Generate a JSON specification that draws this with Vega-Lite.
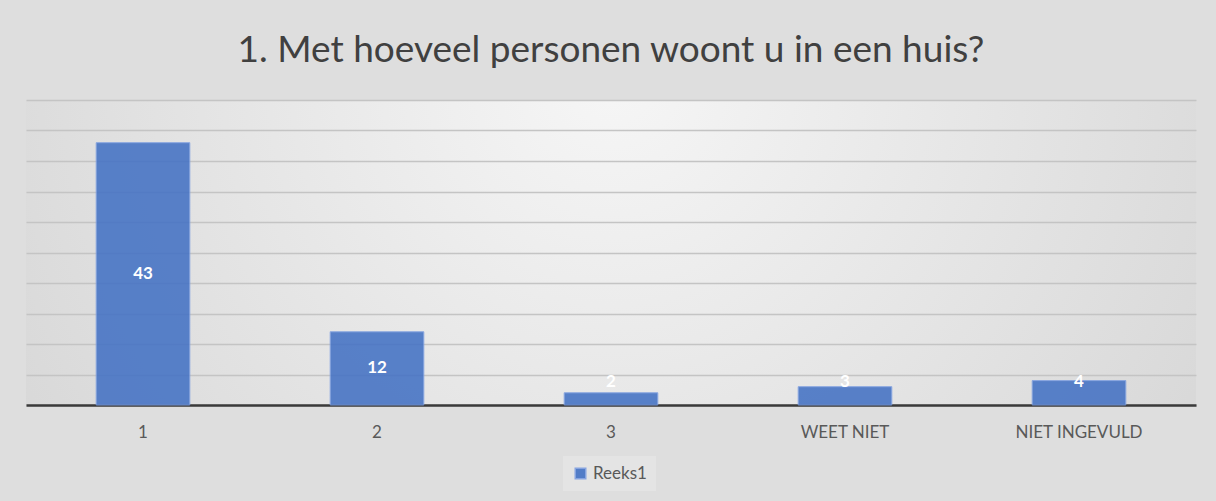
{
  "$schema": "https://vega.github.io/schema/vega-lite/v6.json",
  "width": 1170,
  "height": 305,
  "padding": {"left": 26, "right": 20, "top": 32, "bottom": 60},
  "background": "#dedede",
  "title": {
    "text": "1. Met hoeveel personen woont u in een huis?",
    "fontSize": 37,
    "font": "Lato",
    "fontWeight": "normal",
    "color": "#404040",
    "offset": 30,
    "anchor": "middle"
  },
  "data": {
    "values": [
      {"antwoord": "1", "aantal": 43, "reeks": "Reeks1"},
      {"antwoord": "2", "aantal": 12, "reeks": "Reeks1"},
      {"antwoord": "3", "aantal": 2, "reeks": "Reeks1"},
      {"antwoord": "WEET NIET", "aantal": 3, "reeks": "Reeks1"},
      {"antwoord": "NIET INGEVULD", "aantal": 4, "reeks": "Reeks1"}
    ]
  },
  "transform": [{"calculate": "max(datum.aantal / 2, 3.7)", "as": "labelPos"}],
  "encoding": {
    "x": {
      "field": "antwoord",
      "type": "nominal",
      "sort": null,
      "scale": {"paddingInner": 0.6, "paddingOuter": 0.3},
      "axis": {
        "title": null,
        "labelAngle": 0,
        "ticks": false,
        "labelFontSize": 17,
        "labelFont": "Lato",
        "labelColor": "#595959",
        "labelPadding": 19,
        "domainColor": "#3a3a3a",
        "domainWidth": 2.5
      }
    }
  },
  "layer": [
    {
      "mark": {"type": "bar", "opacity": 0.88, "stroke": "#7d9ee0", "strokeWidth": 1},
      "encoding": {
        "y": {
          "field": "aantal",
          "type": "quantitative",
          "scale": {"domain": [0, 50]},
          "axis": {
            "title": null,
            "labels": false,
            "ticks": false,
            "domain": false,
            "grid": true,
            "values": [0, 5, 10, 15, 20, 25, 30, 35, 40, 45, 50],
            "gridColor": "#c4c4c4",
            "gridWidth": 1.5
          }
        },
        "color": {
          "field": "reeks",
          "type": "nominal",
          "scale": {"range": ["#4472C4"]},
          "legend": {
            "orient": "none",
            "legendX": 537,
            "legendY": 356,
            "direction": "horizontal",
            "title": null,
            "symbolType": "square",
            "symbolSize": 110,
            "symbolOpacity": 0.9,
            "labelFontSize": 17,
            "labelFont": "Lato",
            "labelColor": "#595959",
            "fillColor": "#e4e4e4",
            "padding": 9
          }
        }
      }
    },
    {
      "mark": {"type": "text", "color": "white", "fontWeight": "bold", "fontSize": 17, "font": "Lato"},
      "encoding": {
        "y": {
          "field": "labelPos",
          "type": "quantitative",
          "axis": {
            "title": null,
            "labels": false,
            "ticks": false,
            "domain": false,
            "grid": true,
            "values": [0, 5, 10, 15, 20, 25, 30, 35, 40, 45, 50],
            "gridColor": "#c4c4c4",
            "gridWidth": 1.5
          }
        },
        "text": {"field": "aantal", "type": "quantitative"}
      }
    }
  ],
  "config": {
    "view": {
      "stroke": null,
      "fill": {
        "gradient": "radial",
        "x1": 0.5, "y1": 0.35, "r1": 0,
        "x2": 0.5, "y2": 0.35, "r2": 0.8,
        "stops": [
          {"offset": 0, "color": "#f6f6f6"},
          {"offset": 1, "color": "#cdcdcd"}
        ]
      }
    }
  }
}
